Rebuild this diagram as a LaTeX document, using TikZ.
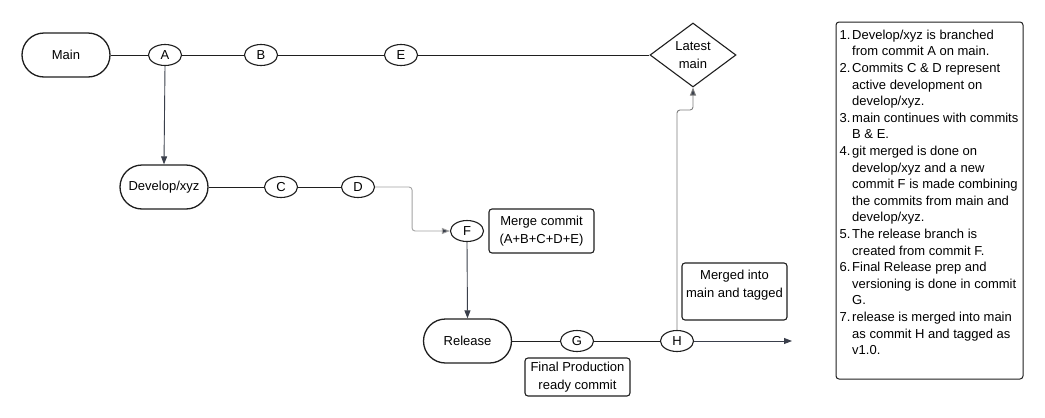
\documentclass[tikz,border=0pt]{standalone}
\usepackage{fontspec}
\setmainfont{Liberation Sans}
\usetikzlibrary{shapes.geometric,arrows.meta}
\definecolor{edgec}{HTML}{1F1F1F}
\definecolor{arrowc}{HTML}{3A3F4B}
\definecolor{lightc}{HTML}{A3A3A3}
\definecolor{midc}{HTML}{7E7E7E}
\tikzset{
  pill/.style={draw=edgec, line width=1.3pt, rounded corners=22pt, minimum width=88pt, minimum height=44pt, inner sep=0pt, font=\fontsize{13}{18}\selectfont},
  commit/.style={draw=edgec, line width=1.1pt, ellipse, minimum width=33pt, minimum height=21pt, inner sep=0pt, font=\fontsize{13}{18}\selectfont},
  notebox/.style={draw=edgec, line width=1.1pt, rounded corners=3pt, minimum width=105pt, inner sep=2pt, align=center, font=\fontsize{13}{18}\selectfont},
  tipped/.style={-{Triangle[length=8pt,width=6pt]}},
  mainline/.style={draw=edgec, line width=0.9pt},
}
\begin{document}
\begin{tikzpicture}[x=1pt,y=-1pt]
\useasboundingbox[fill=white] (0,0) rectangle (1045,418);
% nodes
\node[pill] (main) at (66,55) {Main};
\node[commit] (A) at (165,55) {A};
\node[commit] (B) at (261,55) {B};
\node[commit] (E) at (401,55) {E};
\node[draw=edgec, line width=1.1pt, diamond, aspect=1.34, minimum width=86pt, minimum height=64pt, inner sep=0pt, align=center, font=\fontsize{13}{18}\selectfont] (latest) at (693,55) {Latest\\main};
\node[pill] (dev) at (164,187) {Develop/xyz};
\node[commit] (C) at (281,187) {C};
\node[commit] (D) at (358,187) {D};
\node[commit] (F) at (467,231) {F};
\node[notebox, minimum height=44pt] (merge) at (541.5,231) {Merge commit\\(A+B+C+D+E)};
\node[pill] (rel) at (467.5,341) {Release};
\node[commit] (G) at (577,341) {G};
\node[commit] (H) at (677,341) {H};
\node[notebox, minimum height=38pt] (final) at (577.5,377) {Final Production\\ready commit};
\node[notebox, minimum height=57pt, text depth=16pt] (merged) at (734.5,291.5) {Merged into\\main and tagged};
\coordinate (hend) at (792,341);
% notes
\node[draw=edgec, line width=1pt, rounded corners=3pt, minimum width=187pt, minimum height=357pt, inner sep=0pt] (notes) at (929.5,200.5) {};
\node[anchor=north west, inner sep=0pt, font=\fontsize{13}{16.6}\selectfont] (notetext) at (839.5,27.5) {%
\begin{tabular}{@{}p{12.5pt}@{}l@{}}
1. & Develop/xyz is branched\\
   & from commit A on main.\\
2. & Commits C \& D represent\\
   & active development on\\
   & develop/xyz.\\
3. & main continues with commits\\
   & B \& E.\\
4. & git merged is done on\\
   & develop/xyz and a new\\
   & commit F is made combining\\
   & the commits from main and\\
   & develop/xyz.\\
5. & The release branch is\\
   & created from commit F.\\
6. & Final Release prep and\\
   & versioning is done in commit\\
   & G.\\
7. & release is merged into main\\
   & as commit H and tagged as\\
   & v1.0.
\end{tabular}};
% connectors
\draw[mainline] (main.east) -- (A.west);
\draw[mainline] (A.east) -- (B.west);
\draw[mainline] (B.east) -- (E.west);
\draw[mainline] (E.east) -- (latest.west);
\draw[mainline] (dev.east) -- (C.west);
\draw[mainline] (C.east) -- (D.west);
\draw[mainline] (rel.east) -- (G.west);
\draw[mainline] (G.east) -- (H.west);
\draw[draw=arrowc, line width=0.9pt, tipped] (A.south) -- (dev.north);
\draw[draw=arrowc, line width=0.9pt, tipped] (F.south) -- (rel.north);
\draw[draw=lightc, line width=0.9pt, rounded corners=3pt, -{Triangle[length=8pt,width=6pt,fill=arrowc]}] (D.east) -- ++(37,0) |- (F.west);
\draw[draw=midc, line width=0.9pt, rounded corners=3pt, -{Triangle[length=8pt,width=6pt,fill=arrowc]}] (H.north) -- (H.north |- 0,110) -| (latest.south);
\draw[draw=arrowc, line width=0.9pt, tipped] (H.east) -- (hend);
\end{tikzpicture}
\end{document}
